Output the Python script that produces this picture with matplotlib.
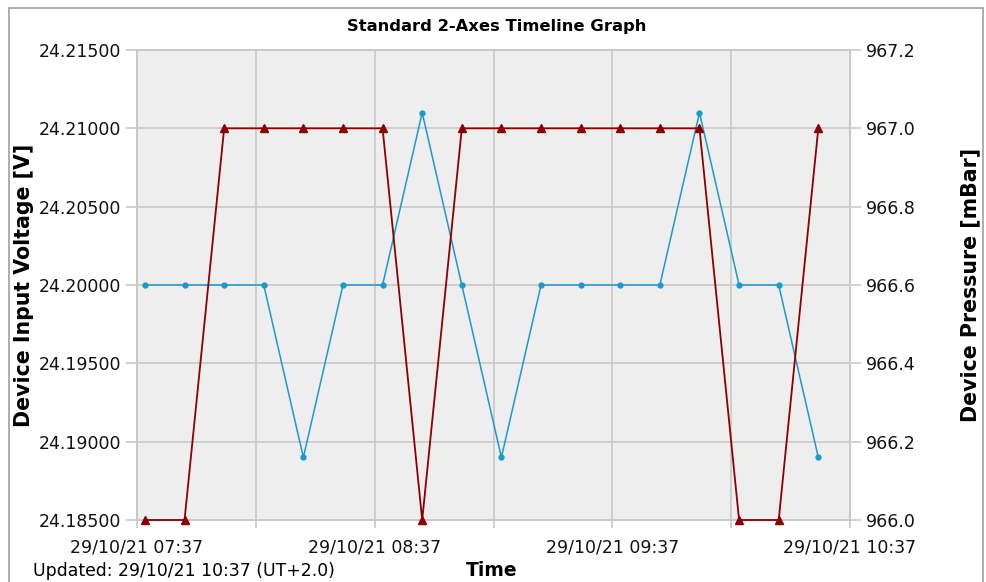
import matplotlib
matplotlib.use("Agg")
import matplotlib.pyplot as plt
import matplotlib.dates as mdates
from matplotlib.patches import Rectangle
from matplotlib.ticker import FormatStrFormatter
import pandas as pd

# data
times = ["07:39", "07:49", "07:59", "08:09", "08:19", "08:29", "08:39", "08:49", "08:59",
         "09:09", "09:19", "09:29", "09:39", "09:49", "09:59", "10:09", "10:19", "10:29"]
voltage = [24.200, 24.200, 24.200, 24.200, 24.189, 24.200, 24.200, 24.211, 24.200,
           24.189, 24.200, 24.200, 24.200, 24.200, 24.211, 24.200, 24.200, 24.189]
pressure = [966.0, 966.0, 967.0, 967.0, 967.0, 967.0, 967.0, 966.0, 967.0,
            967.0, 967.0, 967.0, 967.0, 967.0, 967.0, 966.0, 966.0, 967.0]
major_ticks = ["07:37", "08:37", "09:37", "10:37"]
minor_ticks = ["08:07", "09:07", "10:07"]

day = "2021-10-29 "
t = pd.to_datetime([day + s for s in times])
tmaj = pd.to_datetime([day + s for s in major_ticks])
tmin = pd.to_datetime([day + s for s in minor_ticks])

plt.rcParams['font.family'] = ['DejaVu Sans']
grid_c = "#c8c8c8"
blue = "#1a9acb"
red = "#8b0000"

fig = plt.figure(figsize=(9.86, 5.82), dpi=100)
fig.patches.append(Rectangle((9 / 986, -0.05), 974 / 986, 1.05 - 8 / 582,
                             transform=fig.transFigure, fill=False,
                             edgecolor="#a0a0a0", linewidth=1.2))

ax = fig.add_axes([137 / 986, 1 - 520 / 582, (850 - 137) / 986, (520 - 50) / 582])
ax.set_facecolor("#eeeeee")
ax2 = ax.twinx()

ax.plot(t, voltage, color=blue, lw=1.1, marker="o", ms=3.5, zorder=3, clip_on=False)
ax2.plot(t, pressure, color=red, lw=1.3, marker="^", ms=6, zorder=4, clip_on=False)

ax.set_xlim(tmaj[0], tmaj[-1])
ax.set_ylim(24.185, 24.215)
ax2.set_ylim(966.0, 967.2)
ax.set_yticks([24.185 + 0.005 * i for i in range(7)])
ax2.set_yticks([966.0 + 0.2 * i for i in range(7)])
ax.yaxis.set_major_formatter(FormatStrFormatter("%.5f"))
ax2.yaxis.set_major_formatter(FormatStrFormatter("%.1f"))

ax.set_xticks(tmaj)
ax.set_xticks(tmin, minor=True)
ax.xaxis.set_major_formatter(mdates.DateFormatter("%d/%m/%y %H:%M"))
ax.grid(True, which="both", color=grid_c, lw=1.2)
ax.set_axisbelow(True)

for a in (ax, ax2):
    for s in a.spines.values():
        s.set_color(grid_c)
        s.set_linewidth(1.2)
    a.tick_params(axis="y", colors=grid_c, labelcolor="#111111", length=8, width=1.2, labelsize=12.5)
    a.tick_params(axis="x", which="both", colors=grid_c, labelcolor="#111111", length=6,
                  width=1.2, labelsize=12.5, pad=7)

ax.set_ylabel("Device Input Voltage [V]", fontsize=14.8, fontweight="bold")
ax2.set_ylabel("Device Pressure [mBar]", fontsize=14.8, fontweight="bold")
ax.yaxis.set_label_coords(-0.1445, 0.5)
ax2.yaxis.set_label_coords(1.155, 0.5)
ax2.yaxis.label.set_rotation(90)

fig.text(497 / 986, 1 - 27 / 582, "Standard 2-Axes Timeline Graph", ha="center", va="center",
         fontsize=11.8, fontweight="bold")
fig.text(492 / 986, 1 - 571 / 582, "Time", ha="center", va="center", fontsize=13.5,
         fontweight="bold")
fig.text(33 / 986, 1 - 571 / 582, "Updated: 29/10/21 10:37 (UT+2.0)", ha="left", va="center",
         fontsize=12.4)

fig.savefig("out.png", dpi=100)
